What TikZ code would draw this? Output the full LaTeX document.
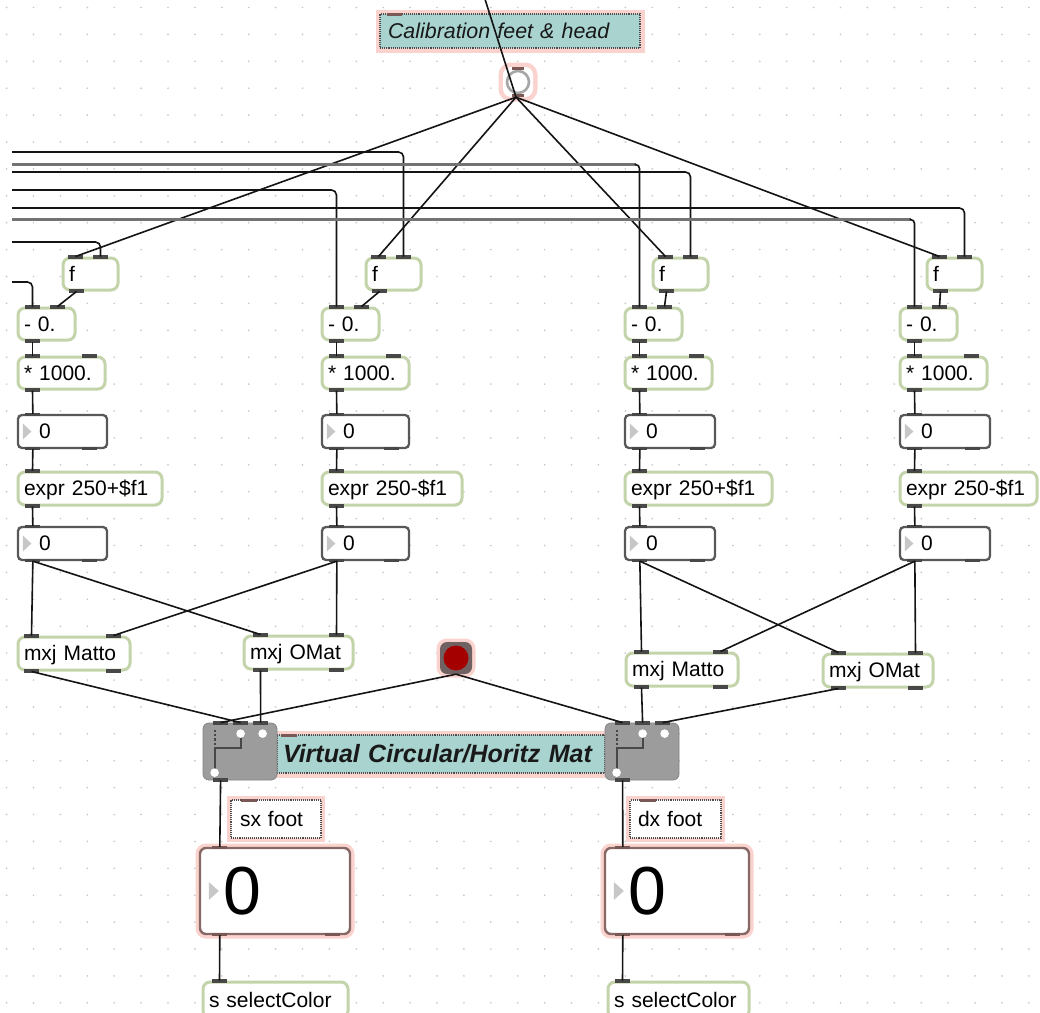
\documentclass[tikz,border=0pt]{standalone}
\usepackage{fontspec}
\setmainfont{Liberation Sans}
\usetikzlibrary{calc}

\definecolor{objedge}{RGB}{196,212,170}
\definecolor{tabc}{RGB}{72,72,72}
\definecolor{ctab}{RGB}{122,88,86}
\definecolor{haloc}{RGB}{250,210,206}
\definecolor{tealc}{RGB}{168,211,207}
\definecolor{numedge}{RGB}{88,88,88}
\definecolor{bigedge}{RGB}{135,104,100}
\definecolor{dotc}{RGB}{200,200,200}
\definecolor{gsw}{RGB}{156,156,156}
\definecolor{btnred}{RGB}{165,0,0}
\definecolor{btngrey}{RGB}{112,98,98}

\newcommand\objfont{\fontsize{21}{21}\selectfont}
\newcommand\calfont{\fontsize{21.4}{21.4}\selectfont\itshape}
\newcommand\matfont{\fontsize{25}{25}\selectfont\bfseries\itshape}
\newcommand\bignumfont{\fontsize{68}{68}\selectfont}
\newcommand\mst{\rule[-0.2em]{0pt}{1.1em}}

% a patcher box given by its corners: style, name, x1, y1, x2, y2, text
\newcommand\patch[7]{%
  \pgfmathsetmacro\pw{(#5)-(#3)}%
  \pgfmathsetmacro\ph{(#6)-(#4)}%
  \pgfmathsetmacro\ptw{(#5)-(#3)-12}%
  \pgfmathsetmacro\pcx{((#3)+(#5))/2}%
  \pgfmathsetmacro\pcy{((#4)+(#6))/2}%
  \node[#1, minimum width=\pw pt, minimum height=\ph pt, text width=\ptw pt,
        inner xsep=6pt, inner ysep=0pt, align=left] (#2) at (\pcx,\pcy) {\mbox{\mst#7}};%
}

% inlet and outlet tabs, with named coordinates name-i<k> and name-o<k>
\newcommand\ports[4][tabc]{%
  \foreach \d [count=\k] in {#3} {%
    \coordinate (#2-i\k) at ($(#2.north west)+(\d,0)$);
    \fill[#1] ($(#2-i\k)+(-7.5,-1.2)$) rectangle ++(15,3.6);}%
  \foreach \d [count=\k] in {#4} {%
    \coordinate (#2-o\k) at ($(#2.south west)+(\d,0)$);
    \fill[#1] ($(#2-o\k)+(-7.5,-2.4)$) rectangle ++(15,3.6);}%
}

% gswitch object with its switch drawing
\newcommand\gswitch[3]{%
  \patch{gsbox}{#1}{#2}{#3}{(#2)+74}{(#3)+57}{}
  \draw[gsdark, dash pattern=on 2.2pt off 2.2pt] ($(#1.north west)+(12,7)$) -- ++(0,22);
  \draw[gsdark] ($(#1.north west)+(38,11)$) |- ($(#1.north west)+(12,25)$) -- ($(#1.north west)+(12,48)$);
  \fill[white] ($(#1.north west)+(38,11)$) circle (4.3);
  \fill[white] ($(#1.north west)+(60,11)$) circle (4.3);
  \fill[white] ($(#1.north west)+(12,50)$) circle (4.3);
  \ports{#1}{18,38,58}{18}
}

\begin{document}
\begin{tikzpicture}[x=1pt,y=-1pt,
  obj/.style={draw=objedge, line width=3pt, fill=white, rounded corners=7pt, font=\objfont},
  numbox/.style={draw=numedge, line width=2.3pt, fill=white, rounded corners=4pt, font=\objfont},
  bignum/.style={draw=bigedge, line width=2.4pt, fill=white, rounded corners=6pt, font=\bignumfont,
                 preaction={draw=haloc, solid, line width=9pt}},
  comment/.style={fill=tealc, draw=black!70, densely dotted, line width=1.1pt,
                  preaction={draw=haloc, solid, line width=9pt}, text=black!90},
  note/.style={fill=white, draw=black!70, densely dotted, line width=1.1pt,
               preaction={draw=haloc, solid, line width=8pt}, font=\objfont},
  gsbox/.style={fill=gsw, draw=gsw!85!black, line width=0.8pt, rounded corners=6pt},
  gsdark/.style={draw=black!72, line width=2pt},
  tri/.style={fill=black!22},
  cord/.style={draw=black!92, line width=1.6pt},
  faintcord/.style={draw=black!55, line width=2.4pt},
  ]
\useasboundingbox (0,0) rectangle (1040,1012);
\fill[white] (0,0) rectangle (1040,1012);

% editing grid
\foreach \i in {0,...,38} {\foreach \j in {0,...,37} {\fill[dotc] ({6.6+26.9*\i},{7.5+26.9*\j}) circle (0.95);}}

% calibration comment and toggle
\patch{comment, font=\calfont}{calib}{380}{14}{640}{48}{\hspace*{2pt}Calibration feet \& head}
\fill[ctab] ($(calib.north west)+(8,-0.5)$) rectangle ++(15,3.5);

\node[fill=white, minimum size=30pt, rounded corners=8pt, inner sep=0pt,
      preaction={draw=haloc, line width=9pt}] (tog) at (518,82) {};
\draw[black!35, line width=2.6pt] (tog.center) circle (11);
\fill[ctab] ($(tog.north)+(-6,0)$) rectangle ++(12,3);
\fill[ctab] ($(tog.south)+(-6,-3)$) rectangle ++(12,3);
\coordinate (tog-o) at ($(tog.south)+(-2,0)$);
\coordinate (top) at (484,-4);

% four processing columns
\foreach \c/\fx/\x/\wn/\we/\sg in {1/63/18/89/144/+, 2/366/322/87/140/-, 3/653/625/90/147/+, 4/927/900/90/137/-} {
  \patch{obj}{f\c}{\fx}{258}{\fx+55}{290}{f}
  \ports{f\c}{14,39}{15}
  \patch{obj}{m\c}{\x}{308}{\x+57}{340}{- 0.}
  \ports{m\c}{16,41}{16}
  \patch{obj}{t\c}{\x}{357}{\x+87}{389}{* 1000.}
  \ports{t\c}{16,73}{16}
  \patch{numbox}{na\c}{\x}{415}{\x+\wn}{448}{\hspace*{15pt}0}
  \fill[tri] ($(na\c.west)+(6,-8)$) -- ++(0,16) -- ++(8.5,-8) -- cycle;
  \ports{na\c}{16}{16,\wn-16}
  \patch{obj}{e\c}{\x}{472}{\x+\we}{505}{expr 250\sg\$f1}
  \ports{e\c}{16}{16}
  \patch{numbox}{nb\c}{\x}{527}{\x+\wn}{560}{\hspace*{15pt}0}
  \fill[tri] ($(nb\c.west)+(6,-8)$) -- ++(0,16) -- ++(8.5,-8) -- cycle;
  \ports{nb\c}{16}{16,\wn-16}
}

% mxj objects
\patch{obj}{mx1}{18}{637}{130}{670}{mxj Matto}
\ports{mx1}{15,97}{15,97}
\patch{obj}{mx2}{244}{636}{353}{669}{mxj OMat}
\ports{mx2}{18,94}{18,94}
\patch{obj}{mx3}{626}{653}{738}{686}{mxj Matto}
\ports{mx3}{17,96}{17,96}
\patch{obj}{mx4}{823}{654}{933}{687}{mxj OMat}
\ports{mx4}{17,94}{17,94}

% button
\node[fill=btngrey, minimum size=32pt, rounded corners=7pt, inner sep=0pt,
      preaction={draw=haloc, line width=7pt}] (btn) at (456,658) {};
\fill[btnred] (btn.center) circle (12.5);
\coordinate (btn-o) at (btn.south);

% title comment between the two switches
\patch{comment, font=\matfont}{vcm}{277}{735}{605}{773}{Virtual Circular/Horitz Mat}
\fill[ctab] ($(vcm.north west)+(5,-0.5)$) rectangle ++(16,3.5);
\gswitch{gs1}{203}{723}
\gswitch{gs2}{605}{723}

% foot labels
\patch{note}{sx}{231}{800}{321}{838}{\hspace*{3pt}sx foot}
\fill[ctab] ($(sx.north west)+(11,-0.5)$) rectangle ++(16,3.5);
\patch{note}{dx}{630}{800}{721}{838}{\hspace*{2pt}dx foot}
\fill[ctab] ($(dx.north west)+(11,-0.5)$) rectangle ++(16,3.5);

% large number boxes
\patch{bignum}{bn1}{200}{848}{350}{934}{\hspace*{17pt}0}
\fill[tri] ($(bn1.west)+(10,-9)$) -- ++(0,18) -- ++(10,-9) -- cycle;
\ports[ctab]{bn1}{21}{21,134}
\patch{bignum}{bn2}{605}{848}{749}{934}{\hspace*{17pt}0}
\fill[tri] ($(bn2.west)+(10,-9)$) -- ++(0,18) -- ++(10,-9) -- cycle;
\ports[ctab]{bn2}{19}{19,129}

% senders
\patch{obj}{sc1}{203}{982}{348}{1018}{s selectColor}
\ports{sc1}{18}{18}
\patch{obj}{sc2}{608}{982}{749}{1018}{s selectColor}
\ports{sc2}{16}{16}

% ---- patch cords ----
\draw[cord] (tog-o) -- (top);
\foreach \c in {1,...,4} {\draw[cord] (tog-o) -- (f\c-i1);}

\coordinate (h1) at (12,152);
\coordinate (h2) at (12,164.5);
\coordinate (h3) at (12,172);
\coordinate (h4) at (12,190);
\coordinate (h5) at (12,208);
\coordinate (h6) at (12,219.5);
\coordinate (h7) at (12,242);
\coordinate (h8) at (12,282);
\coordinate (k2) at (h2 -| m3-i1);
\coordinate (k6) at (h6 -| m4-i1);
\draw[cord, rounded corners=5pt] (h1) -| (f2-i2);
\draw[faintcord] (h2) -- ($(k2)+(-4,0)$);
\draw[cord, rounded corners=4pt] ($(k2)+(-5,0)$) -- (k2) -- (m3-i1);
\draw[cord, rounded corners=5pt] (h3) -| (f3-i2);
\draw[cord, rounded corners=5pt] (h4) -| (m2-i1);
\draw[cord, rounded corners=5pt] (h5) -| (f4-i2);
\draw[faintcord] (h6) -- ($(k6)+(-4,0)$);
\draw[cord, rounded corners=4pt] ($(k6)+(-5,0)$) -- (k6) -- (m4-i1);
\draw[cord, rounded corners=5pt] (h7) -| (f1-i2);
\draw[cord, rounded corners=5pt] (h8) -| (m1-i1);

\foreach \c in {1,...,4} {
  \draw[cord] (f\c-o1) -- (m\c-i2);
  \draw[cord] (m\c-o1) -- (t\c-i1);
  \draw[cord] (t\c-o1) -- (na\c-i1);
  \draw[cord] (na\c-o1) -- (e\c-i1);
  \draw[cord] (e\c-o1) -- (nb\c-i1);
}

\draw[cord] (nb1-o1) -- (mx1-i1);
\draw[cord] (nb1-o1) -- (mx2-i1);
\draw[cord] (nb2-o1) -- (mx1-i2);
\draw[cord] (nb2-o1) -- (mx2-i2);
\draw[cord] (nb3-o1) -- (mx3-i1);
\draw[cord] (nb3-o1) -- (mx4-i1);
\draw[cord] (nb4-o1) -- (mx3-i2);
\draw[cord] (nb4-o1) -- (mx4-i2);

\draw[cord] (mx1-o1) -- (gs1-i2);
\draw[cord] (btn-o) -- (gs1-i1);
\draw[cord] (mx2-o1) -- (gs1-i3);
\draw[cord] (btn-o) -- (gs2-i1);
\draw[cord] (mx3-o1) -- (gs2-i2);
\draw[cord] (mx4-o1) -- (gs2-i3);

\draw[cord] (gs1-o1) -- (bn1-i1);
\draw[cord] (gs2-o1) -- (bn2-i1);
\draw[cord] (bn1-o1) -- (sc1-i1);
\draw[cord] (bn2-o1) -- (sc2-i1);
\end{tikzpicture}
\end{document}
